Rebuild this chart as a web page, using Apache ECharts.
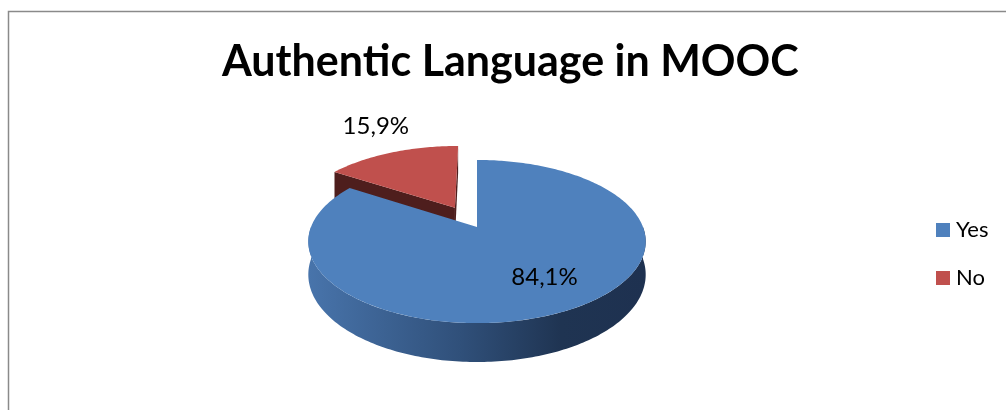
<!DOCTYPE html>
<html>
<head>
<meta charset="utf-8">
<title>Authentic Language in MOOC</title>
<script src="https://cdn.jsdelivr.net/npm/echarts@6/dist/echarts.min.js"></script>
<style>
  html, body { margin: 0; padding: 0; background: #ffffff; }
  #chart { width: 1006px; height: 410px; }
</style>
</head>
<body>
<div id="chart"></div>
<script>
// Survey answers and their shares (percent)
const categories = ['Yes', 'No'];
const shares = [84.1, 15.9];
const chartTitle = 'Authentic Language in MOOC';

// Appearance of each slice
const topColors = ['#4F81BD', '#C0504D'];
const explodeBy = [0, 0.29];            // pull-out distance, in disk radii
const labelPlace = [                    // [radius along mid angle, dx, dy]
  [0.65, 10, 0],
  [1.54, 12, -2]
];

// Tilted-disk projection used to fake the 3D look
const VIEW = { cx: 477, cy: 227, rx: 166, ry: 79, persp: 0.178, depth: 32 };

function project(u, v, z) {
  const w = 1 - VIEW.persp * v;
  return [VIEW.cx + VIEW.rx * u / w, VIEW.cy + VIEW.ry * v / w + z * VIEW.depth / w];
}

function signedArea(pts) {
  let s = 0;
  for (let i = 0; i < pts.length; i++) {
    const a = pts[i], b = pts[(i + 1) % pts.length];
    s += a[0] * b[1] - b[0] * a[1];
  }
  return s / 2;
}

function wallFill(idx) {
  if (idx === 0) {
    return new echarts.graphic.LinearGradient(0, 0, 1, 0, [
      { offset: 0, color: '#4874AB' },
      { offset: 0.45, color: '#30507A' },
      { offset: 0.75, color: '#1F3452' },
      { offset: 1, color: '#1E3150' }
    ]);
  }
  return '#4E1E1D';
}

function makeRenderer(idx) {
  return function (params, api) {
    const value = api.value(0);
    const total = shares.reduce((a, b) => a + b, 0);
    let before = 0;
    for (let i = 0; i < idx; i++) before += shares[i];
    const a0 = before / total * 2 * Math.PI;
    const a1 = (before + value) / total * 2 * Math.PI;
    const mid = (a0 + a1) / 2;
    const ou = Math.sin(mid) * explodeBy[idx];
    const ov = -Math.cos(mid) * explodeBy[idx];
    const pt = (ang, r, z) => project(ou + r * Math.sin(ang), ov - r * Math.cos(ang), z);

    const arc = (s, e, z) => {
      const n = Math.max(2, Math.ceil((e - s) / (Math.PI / 180)));
      const out = [];
      for (let i = 0; i <= n; i++) out.push(pt(s + (e - s) * i / n, 1, z));
      return out;
    };

    const children = [];
    const wall = wallFill(idx);

    // cut faces at both radial edges, kept only when facing the viewer
    const startFace = [pt(0, 0, 0), pt(a0, 1, 0), pt(a0, 1, 1), pt(0, 0, 1)];
    const endFace = [pt(0, 0, 0), pt(0, 0, 1), pt(a1, 1, 1), pt(a1, 1, 0)];
    [startFace, endFace].forEach(face => {
      if (signedArea(face) < -1) {
        children.push({ type: 'polygon', shape: { points: face },
          style: { fill: idx === 0 ? '#2E4C73' : '#4E1E1D' } });
      }
    });

    // rim on the front half of the disk
    const s = Math.max(a0, Math.PI / 2), e = Math.min(a1, Math.PI * 1.5);
    if (e > s) {
      const pts = arc(s, e, 0).concat(arc(s, e, 1).reverse());
      children.push({ type: 'polygon', shape: { points: pts }, style: { fill: wall } });
    }

    // top face
    const topPts = [pt(0, 0, 0)].concat(arc(a0, a1, 0));
    children.push({ type: 'polygon', shape: { points: topPts },
      style: { fill: topColors[idx] } });

    // value label
    const lp = labelPlace[idx];
    const lpos = pt(mid, lp[0], 0);
    children.push({
      type: 'text',
      style: {
        x: lpos[0] + lp[1], y: lpos[1] + lp[2],
        text: value.toFixed(1).replace('.', ',') + '%',
        align: 'center', verticalAlign: 'middle',
        font: '24px Lato', fill: '#000000'
      }
    });

    return { type: 'group', children };
  };
}

const chart = echarts.init(document.getElementById('chart'), null, { renderer: 'canvas' });

// back slice first so the front slice paints over it
const drawOrder = [1, 0];

chart.setOption({
  animation: false,
  backgroundColor: '#ffffff',
  title: {
    text: chartTitle,
    left: 217,
    top: 36,
    textStyle: { fontFamily: 'Lato', fontWeight: 'bold', fontSize: 43, color: '#000000' }
  },
  legend: {
    data: categories,
    orient: 'vertical',
    left: 931,
    top: 214,
    icon: 'rect',
    itemWidth: 14,
    itemHeight: 14,
    itemGap: 26,
    selectedMode: false,
    textStyle: { fontFamily: 'Lato', fontSize: 22, color: '#000000', lineHeight: 22, padding: [0, 0, 0, 1] }
  },
  graphic: [{
    type: 'rect',
    shape: { x: 8.5, y: 11.5, width: 1020, height: 430 },
    style: { fill: null, stroke: '#8a8a8a', lineWidth: 1.5 },
    silent: true
  }],
  series: drawOrder.map(i => ({
    type: 'custom',
    name: categories[i],
    coordinateSystem: 'none',
    itemStyle: { color: topColors[i] },
    renderItem: makeRenderer(i),
    data: [[shares[i]]]
  }))
});
</script>
</body>
</html>
